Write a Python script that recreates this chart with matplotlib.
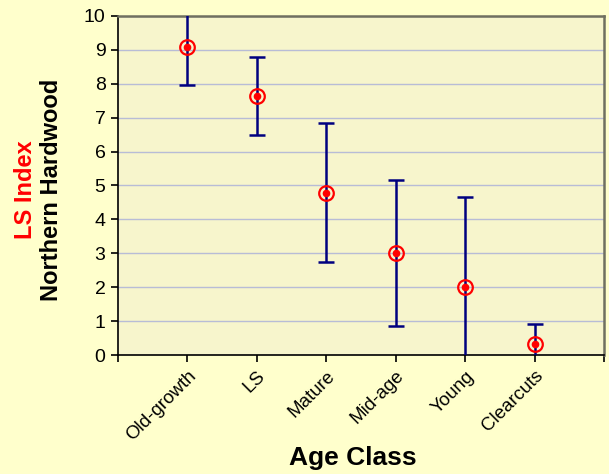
import matplotlib
matplotlib.use("Agg")
import matplotlib.pyplot as plt

age_classes = ["Old-growth", "LS", "Mature", "Mid-age", "Young", "Clearcuts"]
ls_index = [9.1, 7.65, 4.78, 3.0, 2.0, 0.33]
error = [1.15, 1.15, 2.05, 2.15, 2.65, 0.57]

OUTER_BG = "#FFFFCC"
PLOT_BG = "#F7F5CC"
NAVY = "#000080"
RED = "#FF0000"

plt.rcParams["font.family"] = ["Liberation Sans", "DejaVu Sans"]

fig = plt.figure(figsize=(6.09, 4.74), dpi=100, facecolor=OUTER_BG)
ax = fig.add_axes([118 / 609, 1 - 355 / 474, (604 - 118) / 609, (355 - 16) / 474])
ax.set_facecolor(PLOT_BG)

x = list(range(1, len(age_classes) + 1))
ax.errorbar(x, ls_index, yerr=error, fmt="none", ecolor=NAVY,
            elinewidth=1.8, capsize=6, capthick=1.8, zorder=3)
ax.plot(x, ls_index, "o", markersize=10.5, markerfacecolor="none",
        markeredgecolor=RED, markeredgewidth=1.6, zorder=4)
ax.plot(x, ls_index, "o", markersize=4.5, color=RED, zorder=5)

ax.set_xlim(0, 7)
ax.set_ylim(0, 10)
ax.set_yticks(range(0, 11))
ax.set_xticks(range(0, 8))
ax.set_xticklabels([""] + age_classes + [""], rotation=45, ha="right",
                   rotation_mode="anchor", fontsize=13.5)
ax.tick_params(axis="y", labelsize=14, direction="out", length=5, width=1.2, pad=4)
ax.tick_params(axis="x", direction="out", length=5, width=1.2, pad=4)

ax.grid(axis="y", color="#B8BCD6", linewidth=1)
ax.set_axisbelow(True)

for side in ("left", "bottom"):
    ax.spines[side].set_color("black")
    ax.spines[side].set_linewidth(1.2)
for side in ("top", "right"):
    ax.spines[side].set_color("#707060")
    ax.spines[side].set_linewidth(1.8)

fig.text(26 / 609, 1 - 190 / 474, "LS Index", color=RED, rotation=90,
         ha="center", va="center", fontsize=17, fontweight="bold")
fig.text(52 / 609, 1 - 190 / 474, "Northern Hardwood", color="black", rotation=90,
         ha="center", va="center", fontsize=17, fontweight="bold")
fig.text(353 / 609, 1 - 458 / 474, "Age Class", ha="center", va="center",
         fontsize=19, fontweight="bold")

fig.savefig("out.png", dpi=100, facecolor=OUTER_BG)
